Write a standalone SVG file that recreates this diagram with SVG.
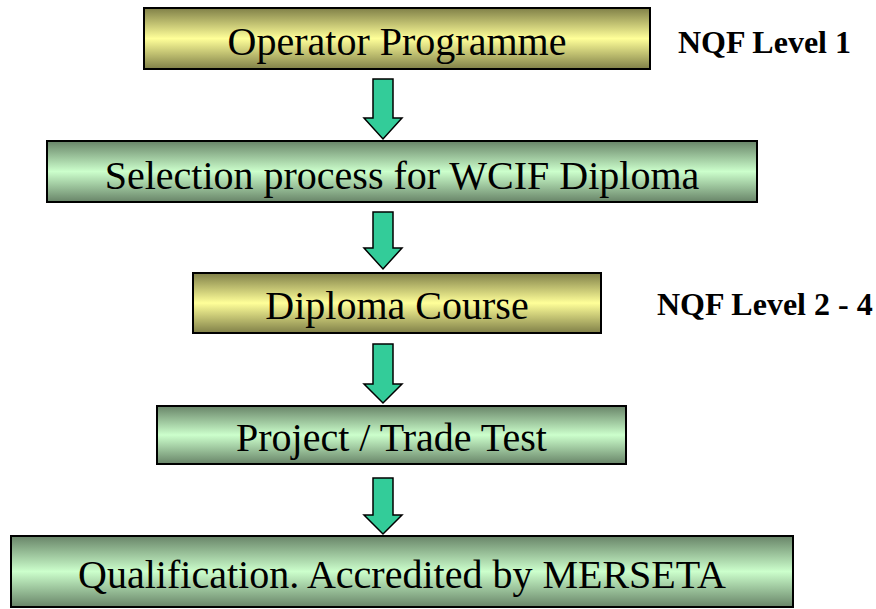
<svg xmlns="http://www.w3.org/2000/svg" width="876" height="609" viewBox="0 0 876 609">
<defs>
<linearGradient id="gy" x1="0" y1="0" x2="0" y2="1">
<stop offset="0" stop-color="#808048"/>
<stop offset="0.5" stop-color="#ffff99"/>
<stop offset="1" stop-color="#808048"/>
</linearGradient>
<linearGradient id="gg" x1="0" y1="0" x2="0" y2="1">
<stop offset="0" stop-color="#688468"/>
<stop offset="0.5" stop-color="#ccffcc"/>
<stop offset="1" stop-color="#688468"/>
</linearGradient>
</defs>
<style>
.box{stroke:#000;stroke-width:2}
.y{fill:url(#gy)}
.g{fill:url(#gg)}
.t{font-family:"Liberation Serif","Times New Roman",serif;font-size:40px;fill:#000;text-anchor:middle}
.n{font-family:"Liberation Serif","Times New Roman",serif;font-size:32px;font-weight:bold;fill:#000}
.arr{fill:#33cc99;stroke:#000;stroke-width:1.5;stroke-linejoin:miter}
</style>
<g id="connectors">
<polygon class="arr" points="373,79 393,79 393,118 402,118 383,139 364,118 373,118"/>
<polygon class="arr" points="373,212 393,212 393,248 402,248 383,269 364,248 373,248"/>
<polygon class="arr" points="373,344 393,344 393,384 402,384 383,403 364,384 373,384"/>
<polygon class="arr" points="373,478 393,478 393,515 402,515 383,534 364,515 373,515"/>
</g>
<g id="operator">
<rect class="box y" x="144" y="8" width="506" height="61"/>
<text class="t" x="397" y="55">Operator Programme</text>
</g>
<g id="selection">
<rect class="box g" x="47" y="141" width="710" height="61"/>
<text class="t" x="402" y="189">Selection process for WCIF Diploma</text>
</g>
<g id="diploma">
<rect class="box y" x="193" y="273" width="408" height="60"/>
<text class="t" x="397" y="319">Diploma Course</text>
</g>
<g id="project">
<rect class="box g" x="157" y="406" width="469" height="58"/>
<text class="t" x="391.5" y="451">Project / Trade Test</text>
</g>
<g id="qualification">
<rect class="box g" x="11" y="536" width="782" height="71"/>
<text class="t" x="402" y="588">Qualification. Accredited by MERSETA</text>
</g>
<g id="nqf1">
<text class="n" x="678" y="53">NQF Level 1</text>
</g>
<g id="nqf24">
<text class="n" x="657" y="315">NQF Level 2 - 4</text>
</g>
</svg>
